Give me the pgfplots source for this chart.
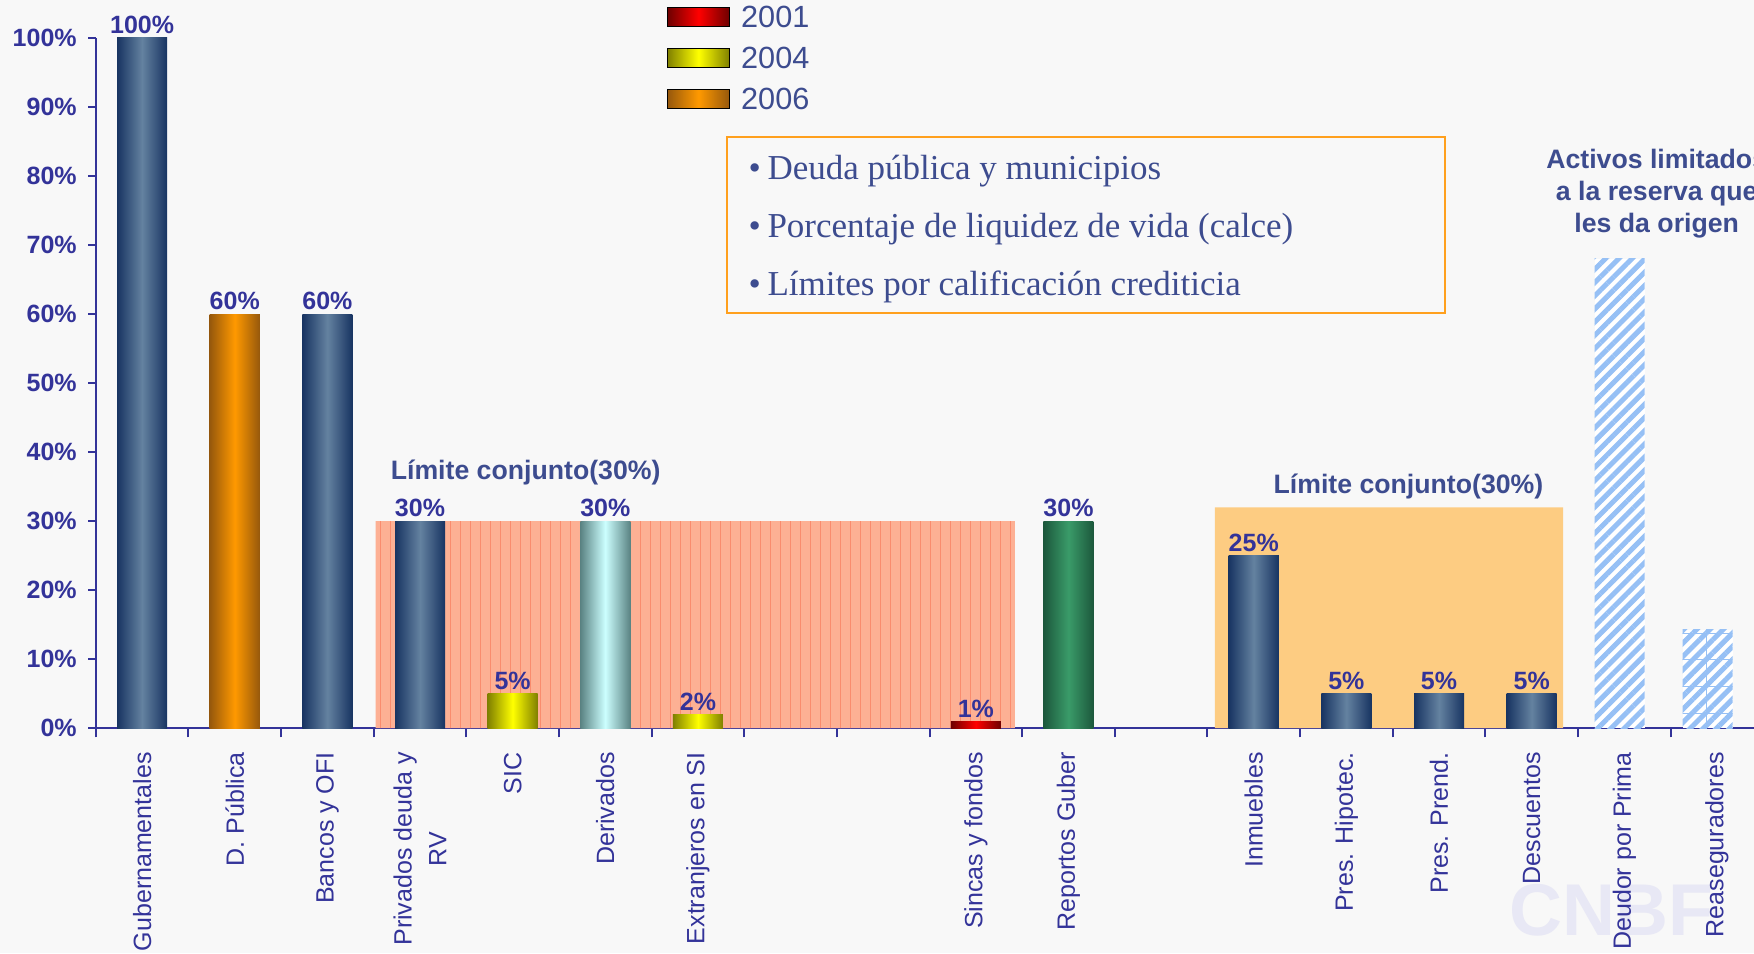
\documentclass[border=0pt]{standalone}
\usepackage{fontspec}
\setmainfont{Liberation Sans}
\newfontfamily\boxfont{Liberation Serif}
\usepackage{pgfplots}
\pgfplotsset{compat=1.18}
\usetikzlibrary{backgrounds,patterns.meta}

\definecolor{axcol}{RGB}{51,51,153}
\definecolor{slate}{RGB}{61,76,143}
\definecolor{bgcol}{RGB}{248,248,248}
\definecolor{wmcol}{RGB}{232,232,245}
\definecolor{navyD}{RGB}{24,52,98}
\definecolor{navyL}{RGB}{100,130,160}
\definecolor{orD}{RGB}{150,88,12}
\definecolor{orL}{RGB}{255,153,0}
\definecolor{yeD}{RGB}{128,128,0}
\definecolor{yeL}{RGB}{255,255,0}
\definecolor{cyD}{RGB}{90,130,130}
\definecolor{cyL}{RGB}{204,255,255}
\definecolor{reD}{RGB}{110,0,0}
\definecolor{reL}{RGB}{255,0,0}
\definecolor{grD}{RGB}{28,88,60}
\definecolor{grL}{RGB}{58,155,105}
\definecolor{salmon}{RGB}{253,176,148}
\definecolor{salmonline}{RGB}{250,140,110}
\definecolor{lightor}{RGB}{253,204,130}
\definecolor{stripe}{RGB}{150,192,245}
\definecolor{boxcol}{RGB}{255,160,30}

\tikzset{grad/.style 2 args={left color=#1, right color=#1, middle color=#2}}
\pgfplotsset{
  mybar/.style={ybar, bar width=0.54, bar shift=0pt, draw=none},
  lab/.style={nodes near coords={\pgfmathprintnumber{\pgfplotspointmeta}\%},
    every node near coord/.append style={font=\bfseries\fontsize{7.5}{9}\selectfont,
      text=axcol, anchor=south, inner sep=1pt}},
}

\begin{document}
\begin{tikzpicture}
\begin{axis}[
  scale only axis,
  width=497.4pt, height=207.06pt,
  xmin=-0.5, xmax=17.40, ymin=0, ymax=100,
  enlargelimits=false, clip=false,
  axis x line=bottom, axis y line=left,
  axis line style={-, draw=axcol, line width=0.6pt},
  tick align=outside,
  major tick length=2.2pt, minor tick length=2.7pt,
  xtick={0,...,17},
  xticklabels={Gubernamentales, D. Pública, Bancos y OFI, {Privados deuda y\\RV}, SIC, Derivados, Extranjeros en SI, , , Sincas y fondos, Reportos Guber, , Inmuebles, Pres. Hipotec., Pres. Prend., Descuentos, Deudor por Prima, Reaseguradores},
  major x tick style={draw=none},
  minor xtick={-0.5,0.5,...,16.5},
  minor x tick style={draw=axcol, line width=0.6pt},
  xticklabel style={rotate=90, anchor=east, align=center,
    font=\fontsize{7.5}{10.4}\selectfont, text=axcol, xshift=-1.5pt},
  ytick={0,10,...,100},
  yticklabels={0\%,10\%,20\%,30\%,40\%,50\%,60\%,70\%,80\%,90\%,100\%},
  y tick style={draw=axcol, line width=0.6pt},
  yticklabel style={font=\bfseries\fontsize{7.5}{9}\selectfont, text=axcol},
  /pgf/number format/assume math mode=true,
  legend style={at={(axis cs:5.657,104.75)}, anchor=north west, draw=none, fill=none,
    inner sep=0pt, font=\fontsize{9.2}{11}\selectfont, text=slate, row sep=5.7pt,
    nodes={inner sep=0pt, text height=6.6pt, text depth=0pt},
    /tikz/every odd column/.append style={column sep=3.3pt}},
  legend cell align=left,
]
\addlegendimage{legend image code/.code={\path[grad={reD}{reL}] (0pt,-2.85pt) rectangle (18.6pt,2.85pt);}}
\addlegendentry{2001}
\addlegendimage{legend image code/.code={\path[grad={yeD}{yeL}] (0pt,-2.85pt) rectangle (18.6pt,2.85pt);}}
\addlegendentry{2004}
\addlegendimage{legend image code/.code={\path[grad={orD}{orL}] (0pt,-2.85pt) rectangle (18.6pt,2.85pt);}}
\addlegendentry{2006}

% joint-limit zones
\addplot[sharp plot, draw=none, fill=salmon,
  postaction={pattern={Lines[angle=90,distance=3pt,line width=0.3pt]}, pattern color=salmonline}]
  coordinates {(2.52,0) (2.52,30) (9.42,30) (9.42,0)} \closedcycle;
\addplot[sharp plot, draw=none, fill=lightor]
  coordinates {(11.58,0) (11.58,32) (15.34,32) (15.34,0)} \closedcycle;

% bars
\addplot[mybar, lab, grad={navyD}{navyL}] coordinates {(0,100)};
\addplot[mybar, lab, grad={orD}{orL}] coordinates {(1,60)};
\addplot[mybar, lab, grad={navyD}{navyL}] coordinates {(2,60)};
\addplot[mybar, lab, grad={navyD}{navyL}] coordinates {(3,30)};
\addplot[mybar, lab, grad={yeD}{yeL}] coordinates {(4,5)};
\addplot[mybar, lab, grad={cyD}{cyL}] coordinates {(5,30)};
\addplot[mybar, lab, grad={yeD}{yeL}] coordinates {(6,2)};
\addplot[mybar, lab, grad={reD}{reL}] coordinates {(9,1)};
\addplot[mybar, lab, grad={grD}{grL}] coordinates {(10,30)};
\addplot[mybar, lab, grad={navyD}{navyL}] coordinates {(12,25)};
\addplot[mybar, lab, grad={navyD}{navyL}] coordinates {(13,5)};
\addplot[mybar, lab, grad={navyD}{navyL}] coordinates {(14,5)};
\addplot[mybar, lab, grad={navyD}{navyL}] coordinates {(15,5)};
\addplot[mybar, preaction={fill=white},
  pattern={Lines[angle=45,distance=2.8pt,line width=1.5pt]}, pattern color=stripe]
  coordinates {(15.95,68)};
\addplot[mybar, preaction={fill=white},
  pattern={Lines[angle=45,distance=2.8pt,line width=1.5pt]}, pattern color=stripe,
  postaction={pattern={Hatch[angle=0,distance=8pt,line width=0.25pt]}, pattern color=stripe}]
  coordinates {(16.9,14.3)};

% annotations
\node[font=\bfseries\fontsize{8}{9.6}\selectfont, text=slate] at (axis cs:4.14,37.1) {Límite conjunto(30\%)};
\node[font=\bfseries\fontsize{8}{9.6}\selectfont, text=slate] at (axis cs:13.67,35.0) {Límite conjunto(30\%)};
\node[align=center, font=\bfseries\fontsize{8}{9.7}\selectfont, text=slate] at (axis cs:16.35,77.46)
  {Activos limitados\\a la reserva que\\les da origen};
\draw[boxcol, line width=0.6pt] (axis cs:6.315,85.66) rectangle (axis cs:14.068,60.15);
\node[anchor=west, align=left, inner sep=0pt, text=slate,
  font=\boxfont\fontsize{10.5}{17.4}\selectfont] at (axis cs:6.54,72.27)
  {\textbullet\hspace{2pt}Deuda pública y municipios\\
   \textbullet\hspace{2pt}Porcentaje de liquidez de vida (calce)\\
   \textbullet\hspace{2pt}Límites por calificación crediticia};

\coordinate (wm) at (axis cs:15.86,-26.3);
\coordinate (bbsw) at (axis cs:-1.534,-32.6);
\coordinate (bbne) at (axis cs:17.40,105.5);
\end{axis}
\pgfresetboundingbox
\begin{pgfonlayer}{background}
\fill[bgcol] (bbsw) rectangle (bbne);
\node[font=\bfseries\fontsize{22}{22}\selectfont, text=wmcol] at (wm) {CNBF};
\end{pgfonlayer}
\path[use as bounding box] (bbsw) rectangle (bbne);
\end{tikzpicture}
\end{document}
